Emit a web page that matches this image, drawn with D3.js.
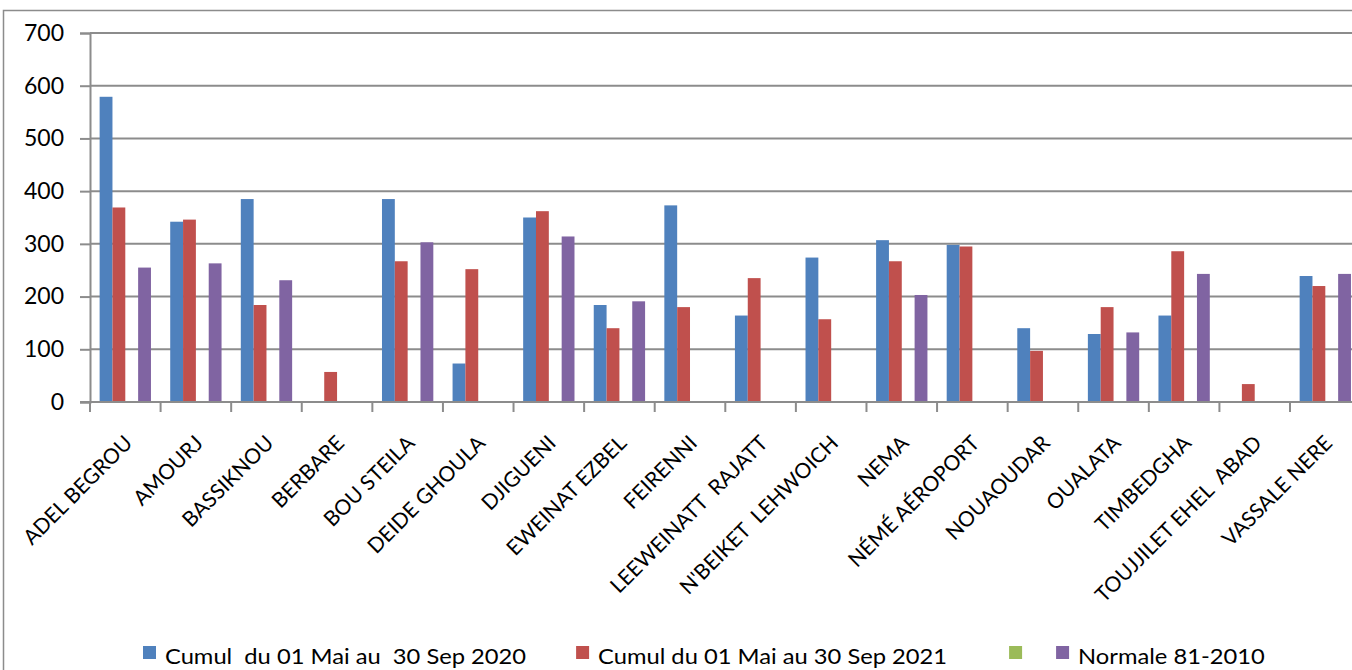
<!DOCTYPE html>
<html>
<head>
<meta charset="utf-8">
<script src="https://cdn.jsdelivr.net/npm/d3@7"></script>
<style>
  body { margin: 0; background: #fff; overflow: hidden; }
  text { font-family: Lato, "Open Sans", sans-serif; fill: #000; }
</style>
</head>
<body>
<div id="chart"></div>
<script>
// stations
var stations = ["ADEL BEGROU", "AMOURJ", "BASSIKNOU", "BERBARE", "BOU STEILA", "DEIDE GHOULA",
  "DJIGUENI", "EWEINAT EZBEL", "FEIRENNI", "LEEWEINATT  RAJATT", "N'BEIKET  LEHWOICH", "NEMA",
  "NÉMÉ AÉROPORT", "NOUAOUDAR", "OUALATA", "TIMBEDGHA", "TOUJJILET EHEL  ABAD", "VASSALE NERE"];

// series values (mm)
var cumul2020 = [579, 342, 385, null, 385, 73, 350, 184, 373, 164, 274, 307, 298, 140, 129, 164, null, 239];
var cumul2021 = [369, 346, 184, 57, 267, 252, 362, 140, 180, 235, 157, 267, 295, 97, 180, 286, 34, 220];
var emptySeries = [null, null, null, null, null, null, null, null, null, null, null, null, null, null, null, null, null, null];
var normale = [255, 263, 231, null, 303, null, 314, 191, null, null, null, 203, null, null, 132, 243, null, 243];

var seriesNames = ["Cumul  du 01 Mai au  30 Sep 2020", "Cumul du 01 Mai au 30 Sep 2021", "", "Normale 81-2010"];
var seriesColors = ["#4F81BD", "#C0504D", "#9BBB59", "#8064A2"];
var yTicks = [0, 100, 200, 300, 400, 500, 600, 700];

var W = 1352, H = 670;
var plotLeft = 90, plotRight = 1360.6, plotTop = 33, plotBottom = 402;
var gridColor = "#8c8c8c";

const svg = d3.select("#chart").append("svg")
  .attr("width", W).attr("height", H);

// outer frame of the chart area
svg.append("rect")
  .attr("x", 3.5).attr("y", 10.5)
  .attr("width", W + 10).attr("height", H + 10)
  .attr("fill", "none").attr("stroke", gridColor).attr("stroke-width", 1.5);

var x = d3.scaleBand().domain(stations).range([plotLeft, plotRight]);
var inner = d3.scaleBand().domain(d3.range(4)).range([0, x.bandwidth()])
  .paddingInner(0).paddingOuter(0.75);
var y = d3.scaleLinear().domain([0, 700]).range([plotBottom, plotTop]);

// gridlines
svg.append("g").selectAll("line").data(yTicks.filter(function (d) { return d > 0; }))
  .enter().append("line")
  .attr("x1", plotLeft).attr("x2", W)
  .attr("y1", function (d) { return y(d); }).attr("y2", function (d) { return y(d); })
  .attr("stroke", gridColor).attr("stroke-width", 2);

// y axis
var yAxis = svg.append("g")
  .attr("transform", "translate(" + plotLeft + ",0)")
  .call(d3.axisLeft(y).tickValues(yTicks).tickSize(10).tickPadding(16));
yAxis.select(".domain").attr("stroke", gridColor).attr("stroke-width", 2);
yAxis.selectAll(".tick line").attr("stroke", gridColor).attr("stroke-width", 2);
yAxis.selectAll(".tick text").style("font-size", "23px").attr("fill", "#000");

// bars
var allSeries = [cumul2020, cumul2021, emptySeries, normale];
allSeries.forEach(function (vals, si) {
  svg.append("g").selectAll("rect")
    .data(vals.map(function (v, i) { return {station: stations[i], value: v}; })
      .filter(function (d) { return d.value != null; }))
    .enter().append("rect")
    .attr("x", function (d) { return x(d.station) + inner(si); })
    .attr("width", inner.bandwidth())
    .attr("y", function (d) { return y(d.value); })
    .attr("height", function (d) { return y(0) - y(d.value); })
    .attr("fill", seriesColors[si]);
});

// x axis
var xAxis = svg.append("g")
  .attr("transform", "translate(0," + plotBottom + ")");
xAxis.append("line")
  .attr("x1", plotLeft - 10).attr("x2", W)
  .attr("stroke", gridColor).attr("stroke-width", 2);
xAxis.selectAll(".tk").data(stations).enter().append("line")
  .attr("x1", function (d) { return x(d); }).attr("x2", function (d) { return x(d); })
  .attr("y1", 0).attr("y2", 10)
  .attr("stroke", gridColor).attr("stroke-width", 2);
xAxis.selectAll(".lbl").data(stations).enter().append("text")
  .attr("text-anchor", "end")
  .attr("transform", function (d) {
    return "translate(" + (x(d) + x.bandwidth() / 2 - 2) + ",32) rotate(-45)";
  })
  .attr("dy", "0.7em")
  .style("font-size", "21px")
  .style("white-space", "pre")
  .text(function (d) { return d; });

// legend
var legend = svg.append("g").attr("transform", "translate(0,655)");
var gaps = [50, 62, 25, 0];
var lx = 143;
seriesNames.forEach(function (name, i) {
  legend.append("rect")
    .attr("x", lx).attr("y", -9).attr("width", 13).attr("height", 13)
    .attr("fill", seriesColors[i]);
  var t = legend.append("text")
    .attr("transform", "translate(" + (lx + 22) + ",9) scale(1.13,1)")
    .style("font-size", "21px")
    .style("white-space", "pre")
    .text(name);
  lx += 22 + t.node().getComputedTextLength() * 1.13 + gaps[i];
});
</script>
</body>
</html>
